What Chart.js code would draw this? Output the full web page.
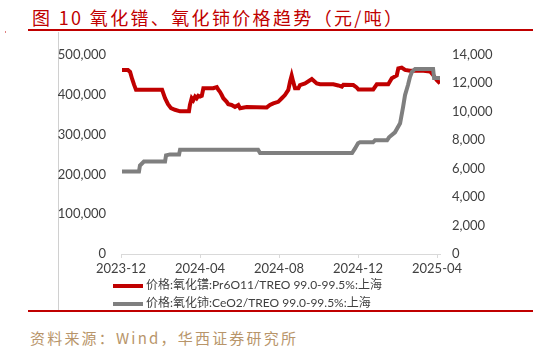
<!DOCTYPE html>
<html>
<head>
<meta charset="utf-8">
<script src="https://cdn.jsdelivr.net/npm/chart.js@4/dist/chart.umd.min.js"></script>
<style>
    body { margin: 0; background: #fff; }
    #page { position: relative; width: 533px; height: 352px; overflow: hidden; background: #fff; }
    .title { position: absolute; left: 32px; top: 4px; font: 18px "Noto Sans CJK SC", sans-serif; letter-spacing: 2.35px; color: #C00000; white-space: nowrap; }
    .rule { position: absolute; left: 28px; width: 505px; height: 2px; background: #C00000; }
    .vline { position: absolute; left: 58px; top: 32px; width: 1px; height: 278px; background: #d0d0d0; }
    .dot { position: absolute; left: 5px; top: 31px; width: 1px; height: 2px; background: #e08080; }
    .source { position: absolute; left: 30px; top: 327px; font: 15px "Noto Sans CJK SC", sans-serif; letter-spacing: 2.2px; color: #B8956A; white-space: nowrap; }
    #chartBox { position: absolute; left: 40px; top: 40px; width: 480px; height: 236px; }
    .legend { position: absolute; left: 113px; font: 12px Lato, "Noto Sans CJK SC", sans-serif; color: #404040; white-space: nowrap; }
    .legend span { display: inline-block; width: 30px; height: 4px; margin-right: 3px; vertical-align: middle; }
</style>
</head>
<body>
<div id="page">
    <div class="title">图 10 氧化镨、氧化铈价格趋势（元/吨）</div>
    <div class="rule" style="top:29px"></div>
    <div class="dot"></div>
    <div class="vline"></div>
    <div id="chartBox"><canvas id="priceChart" width="480" height="236"></canvas></div>
    <div class="legend" style="top:275px"><span style="background:#C00000"></span>价格:氧化镨:Pr6O11/TREO 99.0-99.5%:上海</div>
    <div class="legend" style="top:293px"><span style="background:#7F7F7F"></span>价格:氧化铈:CeO2/TREO 99.0-99.5%:上海</div>
    <div class="rule" style="top:310px"></div>
    <div class="source">资料来源：Wind，华西证券研究所</div>
</div>
<script>
// meses desde 2023-12
const tickLabels = ['2023-12', '2024-04', '2024-08', '2024-12', '2025-04'];

// Pr6O11 (eje izquierdo, 元/吨)
const prMonths = [0.05, 0.35, 0.46, 0.56, 0.66, 0.76, 2.08, 2.23, 2.38, 2.53, 2.73, 2.99, 3.44, 3.49, 3.58, 3.66, 3.75, 3.83, 3.91, 4.0, 4.09, 4.17,
    4.67, 4.85, 4.93, 5.01, 5.10, 5.18, 5.35, 5.43, 5.60, 5.77, 5.94, 6.03, 6.36, 7.38, 7.54, 7.71, 7.96, 8.14, 8.30, 8.47, 8.56, 8.64, 8.72,
    8.81, 8.98, 9.06, 9.32, 9.66, 9.91, 10.08, 10.75, 11.0, 11.18, 11.26, 11.76, 11.93, 12.02, 12.77, 12.95, 13.53, 13.71, 13.96, 14.04,
    14.21, 14.38, 14.63, 15.31, 15.65, 15.81, 15.98, 16.15];
const prPrices = [462000, 462000, 457000, 440000, 425000, 412000, 412000, 391000, 376000, 366000, 362000, 358000, 358000, 374000, 391000,
    386000, 395000, 391000, 397000, 395000, 397000, 416000, 416000, 419000, 412000, 407000, 399000, 391000, 382000, 376000, 374000, 369000,
    374000, 366000, 369000, 368000, 374000, 378000, 382000, 391000, 399000, 412000, 433000, 448000, 432000, 416000, 416000, 424000, 428000,
    439000, 428000, 426000, 426000, 423000, 420000, 425000, 424000, 418000, 413000, 413000, 426000, 426000, 441000, 448000, 466000, 468000,
    462000, 460000, 460000, 458000, 449000, 437000, 428000];

// CeO2 (eje derecho, 元/吨)
const ceMonths = [0.05, 0.91, 0.96, 1.16, 2.23, 2.28, 2.48, 2.94, 2.99, 6.94, 7.04, 11.70, 11.85, 12.0, 12.10, 12.76, 12.86, 13.47, 13.57,
    13.87, 14.13, 14.28, 14.38, 14.53, 14.63, 14.73, 14.89, 15.80, 15.85, 16.15];
const cePrices = [5800, 5800, 6220, 6500, 6500, 6930, 7000, 7000, 7330, 7330, 7100, 7100, 7420, 7780, 7850, 7850, 7990, 7990, 8200,
    8550, 9190, 10320, 11170, 11880, 12440, 12800, 13010, 13010, 12370, 12370];

const fontFamily = 'Lato, "Noto Sans CJK SC", sans-serif';
const fontSize = 13;
const textColor = '#404040';

function toPoints(xs, ys) {
    return xs.map(function (x, i) { return {x: x, y: ys[i]}; });
}

var ctx = document.getElementById('priceChart').getContext('2d');
var priceChart = new Chart(ctx, {
    type: 'line',
    data: {
        datasets: [{
            label: '价格:氧化镨:Pr6O11/TREO 99.0-99.5%:上海',
            data: toPoints(prMonths, prPrices),
            borderColor: '#C00000',
            borderWidth: 4,
            pointRadius: 0,
            tension: 0,
            yAxisID: 'y',
            order: 1
        }, {
            label: '价格:氧化铈:CeO2/TREO 99.0-99.5%:上海',
            data: toPoints(ceMonths, cePrices),
            borderColor: '#7F7F7F',
            borderWidth: 4,
            pointRadius: 0,
            tension: 0,
            yAxisID: 'y1',
            order: 0
        }]
    },
    options: {
        responsive: false,
        animation: false,
        layout: {padding: {top: 8, left: 0, right: 0, bottom: 0}},
        plugins: {
            legend: {display: false},
            tooltip: {enabled: false}
        },
        scales: {
            x: {
                type: 'linear',
                min: 0,
                max: 16.15,
                afterFit: function (scale) { scale.height = 22; },
                grid: {drawOnChartArea: false, color: '#d9d9d9', tickLength: 4},
                border: {color: '#d9d9d9'},
                ticks: {
                    stepSize: 4,
                    includeBounds: false,
                    maxRotation: 0,
                    padding: 3,
                    color: textColor,
                    font: {family: fontFamily, size: fontSize},
                    callback: function (value) {
                        return value % 4 === 0 ? tickLabels[value / 4] : '';
                    }
                }
            },
            y: {
                position: 'left',
                min: 0,
                max: 500000,
                afterFit: function (scale) { scale.width = 81; },
                grid: {display: false},
                border: {display: false},
                ticks: {
                    stepSize: 100000,
                    padding: 7,
                    color: textColor,
                    font: {family: fontFamily, size: fontSize},
                    callback: function (value) { return value.toLocaleString('en-US'); }
                }
            },
            y1: {
                position: 'right',
                min: 0,
                max: 14000,
                afterFit: function (scale) { scale.width = 80; },
                grid: {display: false},
                border: {display: false},
                ticks: {
                    stepSize: 2000,
                    padding: 4,
                    color: textColor,
                    font: {family: fontFamily, size: fontSize},
                    callback: function (value) { return value.toLocaleString('en-US'); }
                }
            }
        }
    }
});
</script>
</body>
</html>
